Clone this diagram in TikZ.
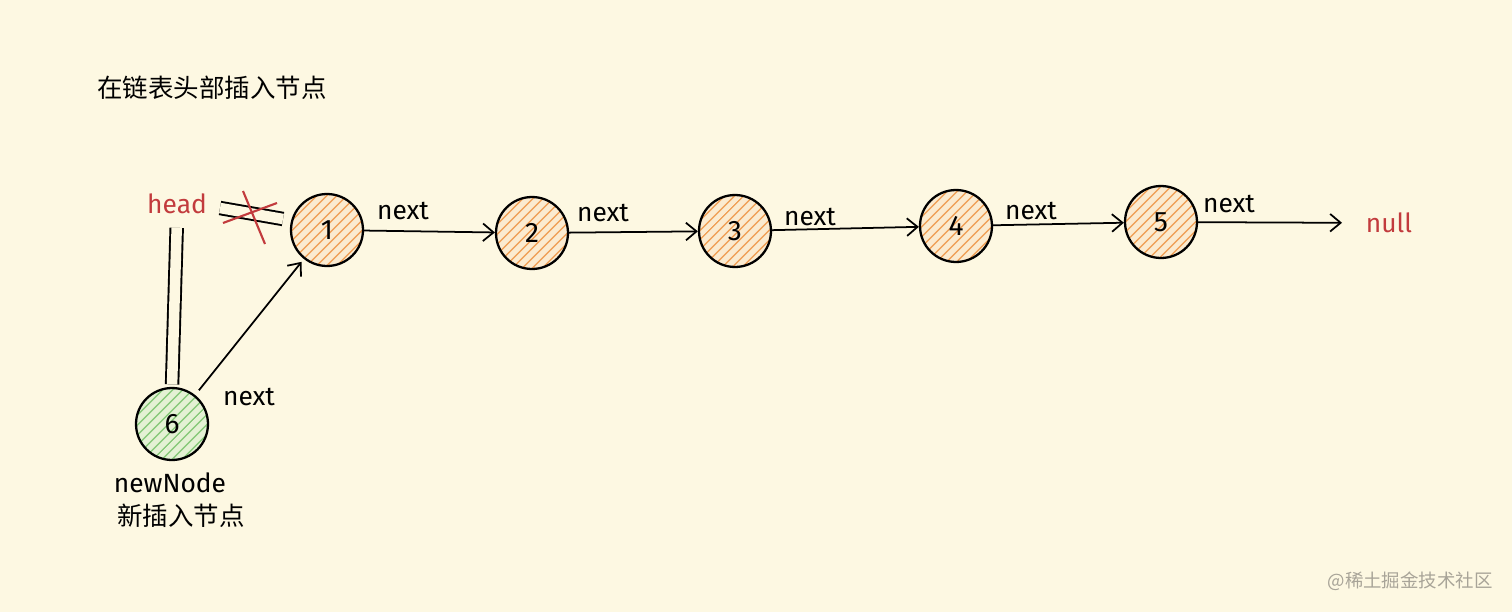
\documentclass[tikz,border=0pt]{standalone}
\usepackage{fontspec}
\setmainfont{Fira Sans}
\newfontfamily\cjk{Noto Sans CJK SC}
\usetikzlibrary{arrows.meta,patterns.meta}
\definecolor{bg}{HTML}{FDF8E2}
\definecolor{ora}{HTML}{F0A45E}
\definecolor{orafill}{HTML}{FBEBD0}
\definecolor{grn}{HTML}{8CCB7E}
\definecolor{grnfill}{HTML}{E4F1D4}
\definecolor{redc}{HTML}{C23B3D}
\definecolor{wm}{HTML}{A8A498}
\tikzset{
  lnode/.style={circle, draw=black, line width=1.3pt, minimum size=1.44cm, inner sep=0pt,
    preaction={fill=orafill}, pattern={Lines[angle=45,distance=4pt,line width=0.9pt]},
    pattern color=ora, font=\fontsize{16}{16}\selectfont},
  gnode/.style={lnode, preaction={fill=grnfill}, pattern color=grn},
  arr/.style={-{Straight Barb[length=6pt,width=10pt,line width=1pt]}, line width=1pt},
  nxt/.style={font=\fontsize{15}{15}\selectfont, inner sep=1pt},
  redtxt/.style={text=redc, font=\fontsize{15}{15}\selectfont, inner sep=2pt},
  cjktxt/.style={font=\cjk\fontsize{14.5}{14.5}\selectfont, inner sep=0pt},
  dbl/.style={double=bg, double distance=6pt, line width=1.1pt},
  cross/.style={draw=redc, line width=1.2pt}
}
\begin{document}
\begin{tikzpicture}[x=0.02cm,y=-0.02cm]
\fill[bg] (0,0) rectangle (1512,612);
\useasboundingbox (0,0) rectangle (1512,612);

\node[cjktxt, anchor=west] (title) at (97,88) {在链表头部插入节点};

\node[lnode] (n1) at (327,230) {1};
\node[lnode] (n2) at (532,233) {2};
\node[lnode] (n3) at (735,231) {3};
\node[lnode] (n4) at (956,226) {4};
\node[lnode] (n5) at (1161,222) {5};
\node[gnode] (n6) at (172,424) {6};

\node[redtxt] (head) at (177,204) {head};
\node[redtxt] (null) at (1389,223) {null};

\node[nxt] (x1) at (403,211) {next};
\node[nxt] (x2) at (603,213) {next};
\node[nxt] (x3) at (810,217) {next};
\node[nxt] (x4) at (1031,211) {next};
\node[nxt] (x5) at (1229,204) {next};
\node[nxt] (x6) at (249,397) {next};

\node[font=\fontsize{15}{15}\selectfont, inner sep=0pt] (nn) at (170,483) {newNode};
\node[cjktxt] (nnl) at (181,516) {新插入节点};
\node[font=\cjk\fontsize{10.5}{10.5}\selectfont, text=wm, inner sep=0pt, anchor=east] (wmk) at (1493,581) {@稀土掘金技术社区};

\draw[arr] (n1) -- (n2);
\draw[arr] (n2) -- (n3);
\draw[arr] (n3) -- (n4);
\draw[arr] (n4) -- (n5);
\draw[arr, shorten >=0.4cm] (n5) -- (null);
\draw[arr, shorten <=0.12cm, shorten >=0.08cm] (n6) -- (n1);

\draw[dbl, shorten <=0.2cm, shorten >=0.05cm] (head.south) -- (n6.north);
\coordinate (ha) at (220,208);
\coordinate (hb) at (283,219);
\draw[dbl] (ha) -- (hb);
\draw[cross] (243,191) -- (265,244);
\draw[cross] (223,223) -- (277,203);
\end{tikzpicture}
\end{document}
